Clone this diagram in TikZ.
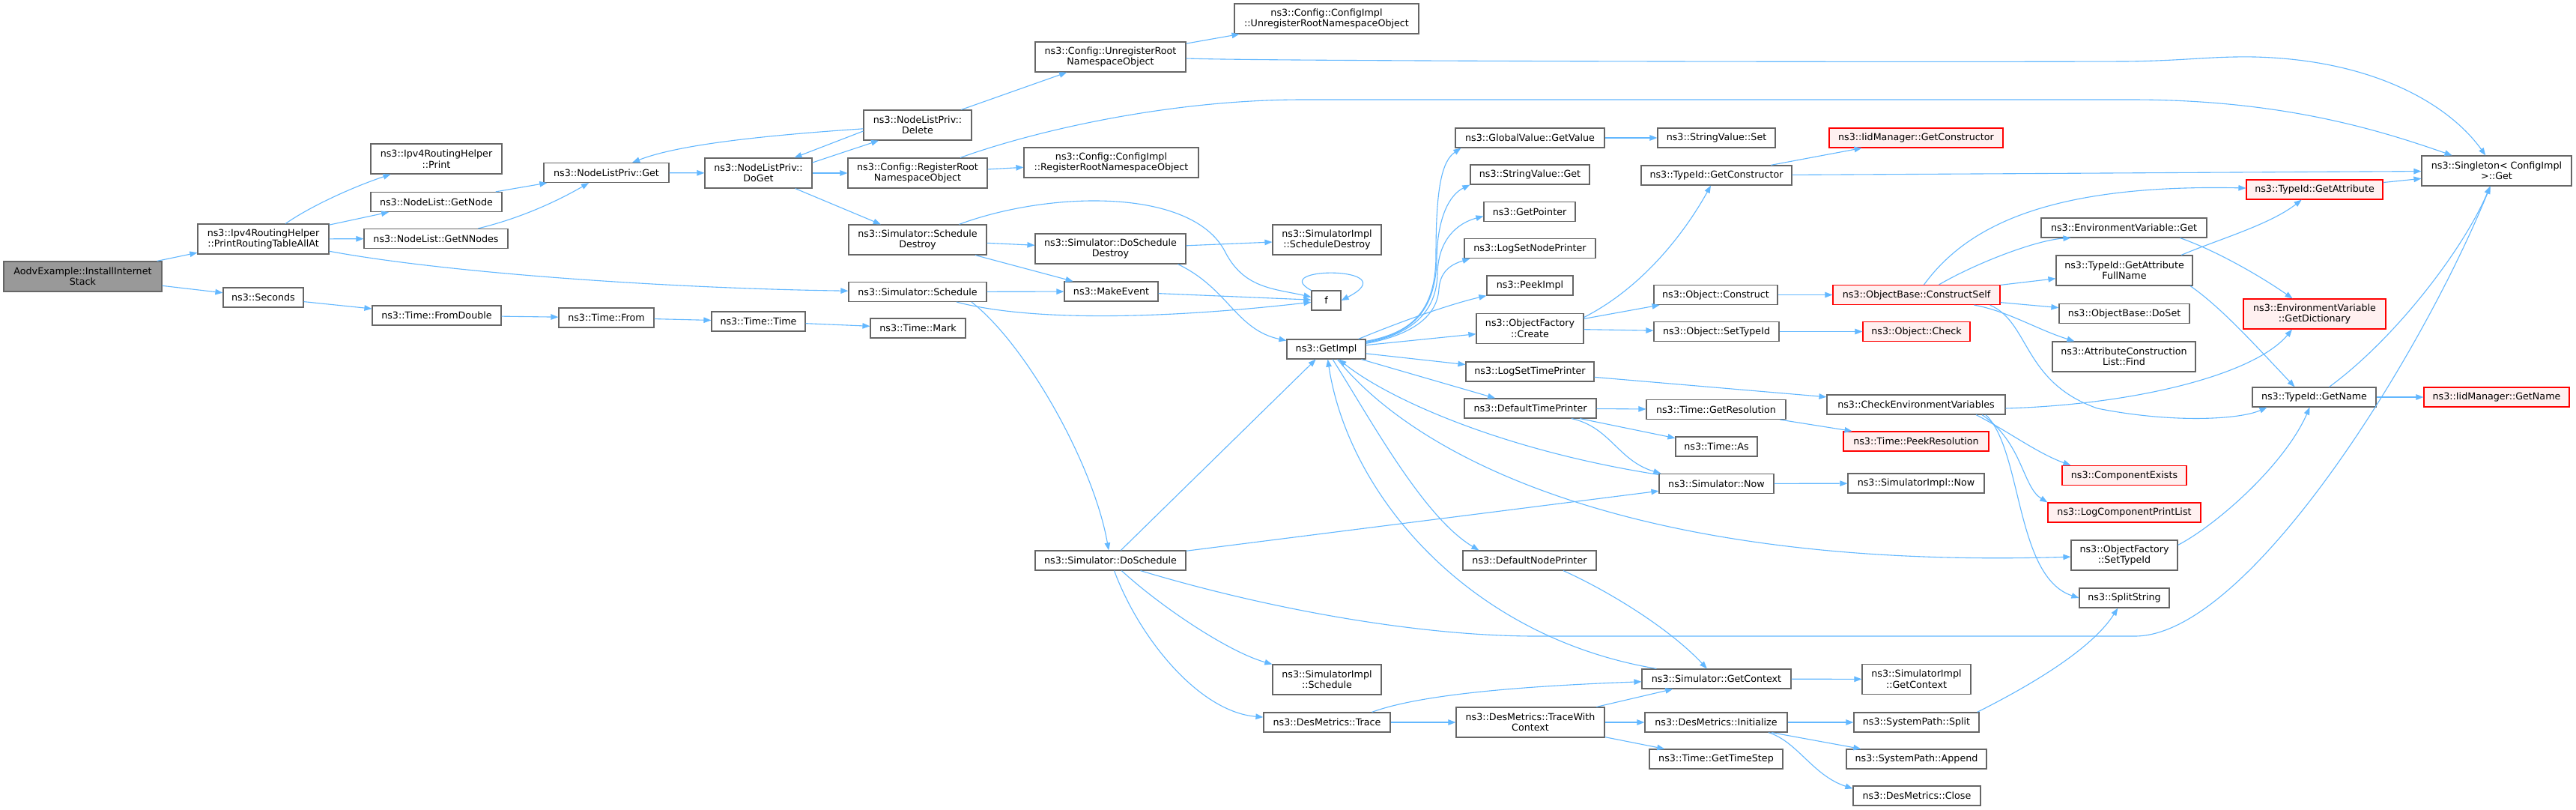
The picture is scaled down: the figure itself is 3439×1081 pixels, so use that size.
\documentclass[tikz,border=0pt]{standalone}
\usepackage{fontspec}
\setmainfont{DejaVu Sans}
\usetikzlibrary{arrows.meta}
\definecolor{edgec}{HTML}{63B8FF}
\definecolor{bord}{HTML}{666666}
\definecolor{rootf}{HTML}{999999}
\definecolor{redf}{HTML}{FFF0F0}
\definecolor{redb}{HTML}{FF0000}
\begin{document}
\begin{tikzpicture}[x=1pt,y=-1pt,
  nd/.style={draw=bord, line width=1.2pt, fill=white, inner sep=0pt, align=center, font=\fontsize{12.7pt}{14.5pt}\selectfont},
  rd/.style={nd, draw=redb, fill=redf},
  sz/.style 2 args={minimum width=#1pt, minimum height=#2pt},
  ed/.style={draw=edgec, line width=1.1pt, -{Triangle[length=10pt,width=7.5pt]}}]
\useasboundingbox (0,0) rectangle (3439,1081);
\fill[white] (0,0) rectangle (3439,1081);
% nodes
\node[nd,fill=rootf,sz={211}{40}] (aodv) at (110.5,369) {AodvExample::InstallInternet\\Stack};
\node[nd,sz={175}{40}] (prt) at (351.5,319) {ns3::Ipv4RoutingHelper\\::PrintRoutingTableAllAt};
\node[nd,sz={107}{26}] (sec) at (351.5,397) {ns3::Seconds};
\node[nd,sz={175}{40}] (prn) at (582.5,212) {ns3::Ipv4RoutingHelper\\::Print};
\node[nd,sz={175}{26}] (gnode) at (582.5,269.5) {ns3::NodeList::GetNode};
\node[nd,sz={192}{26}] (gnn) at (582,318.5) {ns3::NodeList::GetNNodes};
\node[nd,sz={172}{26}] (fd) at (583,421) {ns3::Time::FromDouble};
\node[nd,sz={167}{26}] (nlget) at (809.5,230.5) {ns3::NodeListPriv::Get};
\node[nd,sz={127}{26}] (from) at (809.5,424) {ns3::Time::From};
\node[nd,sz={143}{40}] (doget) at (1012.5,231) {ns3::NodeListPriv::\\DoGet};
\node[nd,sz={125}{26}] (ttime) at (1012.5,429) {ns3::Time::Time};
\node[nd,sz={144}{40}] (del) at (1225,167) {ns3::NodeListPriv::\\Delete};
\node[nd,sz={186}{40}] (reg) at (1225,231) {ns3::Config::RegisterRoot\\NamespaceObject};
\node[nd,sz={184}{40}] (sd) at (1225,320) {ns3::Simulator::Schedule\\Destroy};
\node[nd,sz={184}{26}] (sch) at (1225,389.5) {ns3::Simulator::Schedule};
\node[nd,sz={127}{26}] (mark) at (1225.5,438) {ns3::Time::Mark};
\node[nd,sz={201}{26}] (dos) at (1482.5,748) {ns3::Simulator::DoSchedule};
\node[nd,sz={201}{40}] (unreg) at (1482.5,76) {ns3::Config::UnregisterRoot\\NamespaceObject};
\node[nd,sz={233}{40}] (cireg) at (1483.5,217) {ns3::Config::ConfigImpl\\::RegisterRootNamespaceObject};
\node[nd,sz={201}{40}] (dsd) at (1482.5,332) {ns3::Simulator::DoSchedule\\Destroy};
\node[nd,sz={125}{26}] (mk) at (1483.5,389) {ns3::MakeEvent};
\node[nd,sz={246}{40}] (ciunreg) at (1771,25) {ns3::Config::ConfigImpl\\::UnregisterRootNamespaceObject};
\node[nd,sz={145}{40}] (sisd) at (1771.5,320) {ns3::SimulatorImpl\\::ScheduleDestroy};
\node[nd,sz={39}{26}] (f) at (1770.5,401) {f};
\node[nd,sz={105}{26}] (gi) at (1770.5,466) {ns3::GetImpl};
\node[nd,sz={145}{40}] (sis) at (1771.5,907) {ns3::SimulatorImpl\\::Schedule};
\node[nd,sz={169}{26}] (dmt) at (1771.5,964) {ns3::DesMetrics::Trace};
\node[nd,sz={199}{26}] (gv) at (2042.5,184) {ns3::GlobalValue::GetValue};
\node[nd,sz={159}{26}] (svg) at (2042.5,233) {ns3::StringValue::Get};
\node[nd,sz={122}{26}] (gp) at (2042,282.5) {ns3::GetPointer};
\node[nd,sz={175}{26}] (lsnp) at (2042.5,331.5) {ns3::LogSetNodePrinter};
\node[nd,sz={115}{26}] (pi) at (2042.5,381) {ns3::PeekImpl};
\node[nd,sz={143}{40}] (ofc) at (2042.5,438.5) {ns3::ObjectFactory\\::Create};
\node[nd,sz={171}{26}] (lstp) at (2042.5,496) {ns3::LogSetTimePrinter};
\node[nd,sz={176}{26}] (dtp) at (2043,545) {ns3::DefaultTimePrinter};
\node[nd,sz={178}{26}] (dnp) at (2042,748) {ns3::DefaultNodePrinter};
\node[nd,sz={198}{40}] (twc) at (2043,964) {ns3::DesMetrics::TraceWith\\Context};
\node[nd,sz={157}{26}] (svs) at (2291.5,184) {ns3::StringValue::Set};
\node[nd,sz={201}{26}] (tgc) at (2291.5,234) {ns3::TypeId::GetConstructor};
\node[nd,sz={165}{26}] (oc) at (2290.5,393.5) {ns3::Object::Construct};
\node[nd,sz={167}{26}] (ost) at (2291.5,442.5) {ns3::Object::SetTypeId};
\node[nd,sz={186}{26}] (tgr) at (2291,546.5) {ns3::Time::GetResolution};
\node[nd,sz={109}{26}] (tas) at (2291.5,596) {ns3::Time::As};
\node[nd,sz={153}{26}] (snow) at (2291.5,645.5) {ns3::Simulator::Now};
\node[nd,sz={199}{26}] (sgc) at (2291.5,906) {ns3::Simulator::GetContext};
\node[nd,sz={190}{26}] (dmi) at (2291,964) {ns3::DesMetrics::Initialize};
\node[nd,sz={178}{26}] (tgts) at (2291,1013) {ns3::Time::GetTimeStep};
\node[rd,sz={232}{26}] (igc) at (2558,184) {ns3::IidManager::GetConstructor};
\node[rd,sz={223}{26}] (cs) at (2558.5,393.5) {ns3::ObjectBase::ConstructSelf};
\node[rd,sz={143}{26}] (ochk) at (2558.5,442.5) {ns3::Object::Check};
\node[nd,sz={238}{26}] (cev) at (2558,540) {ns3::CheckEnvironmentVariables};
\node[rd,sz={194}{26}] (tpr) at (2558,589) {ns3::Time::PeekResolution};
\node[nd,sz={182}{26}] (sinow) at (2558,645) {ns3::SimulatorImpl::Now};
\node[nd,sz={145}{40}] (sigc) at (2558.5,906.5) {ns3::SimulatorImpl\\::GetContext};
\node[nd,sz={167}{26}] (sps) at (2558.5,964) {ns3::SystemPath::Split};
\node[nd,sz={187}{26}] (spa) at (2558.5,1013) {ns3::SystemPath::Append};
\node[nd,sz={170}{26}] (dmc) at (2559,1062) {ns3::DesMetrics::Close};
\node[nd,sz={221}{26}] (evg) at (2835.5,304) {ns3::EnvironmentVariable::Get};
\node[nd,sz={182}{40}] (tgafn) at (2836,361) {ns3::TypeId::GetAttribute\\FullName};
\node[nd,sz={174}{26}] (obds) at (2836,418.5) {ns3::ObjectBase::DoSet};
\node[nd,sz={191}{40}] (acf) at (2835.5,476) {ns3::AttributeConstruction\\List::Find};
\node[rd,sz={166}{26}] (ce) at (2836,634.5) {ns3::ComponentExists};
\node[rd,sz={204}{26}] (lcpl) at (2836,684) {ns3::LogComponentPrintList};
\node[nd,sz={142}{40}] (ofst) at (2836,741) {ns3::ObjectFactory\\::SetTypeId};
\node[nd,sz={120}{26}] (ss) at (2836,798) {ns3::SplitString};
\node[rd,sz={182}{26}] (tga) at (3090,253) {ns3::TypeId::GetAttribute};
\node[rd,sz={190}{40}] (evgd) at (3090,419) {ns3::EnvironmentVariable\\::GetDictionary};
\node[nd,sz={165}{26}] (tgn) at (3089.5,530) {ns3::TypeId::GetName};
\node[nd,sz={200}{40}] (sing) at (3333,228) {ns3::Singleton< ConfigImpl\\>::Get};
\node[rd,sz={194}{26}] (ign) at (3333,530) {ns3::IidManager::GetName};
% edges
\draw[ed] (aodv) -- (prt);
\draw[ed] (aodv) -- (sec);
\draw[ed] (prt) .. controls (415,275) and (470,250) .. (prn);
\draw[ed] (prt) -- (gnode);
\draw[ed] (prt) -- (gnn);
\draw[ed] (prt) .. controls (600,365) and (900,385) .. (sch);
\draw[ed] (gnode) -- (nlget);
\draw[ed] (gnn) .. controls (700,290) and (750,265) .. (nlget);
\draw[ed] (nlget) -- (doget);
\draw[ed] (del) .. controls (1000,182) and (900,195) .. (nlget);
\draw[ed] ([yshift=-8pt]del.west) -- ([xshift=48pt]doget.north);
\draw[ed] ([yshift=14pt]doget.east) -- ([xshift=-52pt]del.south);
\draw[ed] (doget) -- (reg);
\draw[ed] (doget) -- (sd);
\draw[ed] (del) -- (unreg);
\draw[ed] (unreg) -- (ciunreg);
\draw[ed] ([yshift=-2pt]unreg.east) .. controls (1700,82) and (2600,83) .. (2838,82) .. controls (2920,81) and (2950,75) .. (3010,76) .. controls (3170,80) and (3270,140) .. (sing);
\draw[ed] (reg) -- (cireg);
\draw[ed] (reg) .. controls (1380,175) and (1560,133) .. (1740,133) -- (2845,133) .. controls (3050,133) and (3180,175) .. (sing);
\draw[ed] (sd) -- (dsd);
\draw[ed] (sd) -- (mk);
\draw[ed] (sd) .. controls (1400,255) and (1590,250) .. (1635,335) .. controls (1660,385) and (1700,385) .. (f);
\draw[ed] (sch) -- (mk);
\draw[ed] (sch) .. controls (1380,430) and (1560,425) .. (f);
\draw[ed] (mk) -- (f);
\draw[ed] (f.north west) .. controls (1690,355) and (1880,355) .. (f.east);
\draw[ed] (dsd) -- (sisd);
\draw[ed] ([xshift=90pt]dsd.south) .. controls (1640,385) and (1650,440) .. (gi);
\draw[ed] ([xshift=72pt]sch.south) .. controls (1370,460) and (1460,620) .. (dos);
\draw[ed] (dos) -- (gi);
\draw[ed] (dos) -- (snow);
\draw[ed] (dos) .. controls (1550,810) and (1640,870) .. (sis);
\draw[ed] (dos) .. controls (1520,850) and (1600,950) .. (dmt);
\draw[ed] ([xshift=40pt]dos.south) .. controls (1700,815) and (1900,849) .. (2050,849) -- (2850,849) .. controls (3000,849) and (3230,480) .. (sing);
\draw[ed] ([yshift=-3pt]gi.north east) .. controls (1880,445) and (1917,420) .. (1917,340) .. controls (1917,250) and (1925,215) .. ([xshift=8pt]gv.south west);
\draw[ed] ([yshift=-4pt]gi.north east) .. controls (1880,446) and (1917,420) .. (1918,345) .. controls (1919,290) and (1935,260) .. (svg.south west);
\draw[ed] ([yshift=-5pt]gi.north east) .. controls (1880,447) and (1918,420) .. (1919,365) .. controls (1920,320) and (1945,298) .. ([yshift=-6pt]gp.west);
\draw[ed] ([yshift=-6pt]gi.north east) .. controls (1880,448) and (1919,425) .. (1921,385) .. controls (1923,360) and (1940,352) .. ([xshift=8pt]lsnp.south west);
\draw[ed] ([xshift=-10pt]gi.north east) .. controls (1880,425) and (1940,405) .. (pi);
\draw[ed] (gi) -- (ofc);
\draw[ed] (gi) -- (lstp);
\draw[ed] (gi) -- (dtp);
\draw[ed] (gi) .. controls (1830,560) and (1900,690) .. ([xshift=22pt]dnp.north west);
\draw[ed] ([xshift=15pt]gi.south) .. controls (1900,620) and (2200,760) .. (ofst);
\draw[ed] (snow) .. controls (2000,600) and (1850,530) .. (gi);
\draw[ed] ([xshift=20pt]sgc.north west) .. controls (1960,850) and (1800,660) .. (gi);
\draw[ed] (gv) -- (svs);
\draw[ed] ([yshift=15pt]ofc.east) .. controls (2200,380) and (2255,300) .. (tgc);
\draw[ed] (ofc) -- (oc);
\draw[ed] (ofc) -- (ost);
\draw[ed] (tgc) -- (igc);
\draw[ed] (tgc) -- (sing);
\draw[ed] (oc) -- (cs);
\draw[ed] (ost) -- (ochk);
\draw[ed] (cs) .. controls (2620,310) and (2720,245) .. (tga);
\draw[ed] ([xshift=30pt]cs.north) .. controls (2640,350) and (2720,320) .. ([xshift=40pt]evg.south west);
\draw[ed] (cs) -- (tgafn);
\draw[ed] (cs) -- (obds);
\draw[ed] (cs) .. controls (2680,415) and (2720,440) .. (acf);
\draw[ed] ([xshift=98pt]cs.south) .. controls (2710,430) and (2700,510) .. (2800,545) .. controls (2900,565) and (2990,560) .. ([xshift=20pt]tgn.south west);
\draw[ed] ([xshift=75pt]evg.south) .. controls (2960,335) and (3020,370) .. (evgd);
\draw[ed] ([xshift=76pt]tgafn.north) .. controls (2960,320) and (3030,300) .. (tga);
\draw[ed] ([xshift=88pt]tgafn.south) .. controls (2965,410) and (3010,460) .. ([xshift=-26pt]tgn.north);
\draw[ed] (tga) -- (sing);
\draw[ed] ([xshift=20pt]tgn.north) .. controls (3200,450) and (3290,330) .. (sing);
\draw[ed] (tgn) -- (ign);
\draw[ed] (lstp) -- (cev);
\draw[ed] ([yshift=-5pt]cev.east) .. controls (2850,540) and (3010,500) .. ([xshift=-30pt]evgd.south);
\draw[ed] ([xshift=80pt]cev.south) .. controls (2680,575) and (2720,605) .. ([xshift=12pt]ce.north west);
\draw[ed] ([xshift=88pt]cev.south) .. controls (2700,590) and (2700,650) .. (lcpl.north west);
\draw[ed] ([xshift=93pt]cev.south) .. controls (2700,600) and (2690,770) .. (ss.west);
\draw[ed] (dtp) -- (tgr);
\draw[ed] (dtp) -- (tas);
\draw[ed] ([xshift=55pt]dtp.south) .. controls (2150,570) and (2160,615) .. ([xshift=3pt]snow.north west);
\draw[ed] (tgr) -- (tpr);
\draw[ed] (snow) -- (sinow);
\draw[ed] ([xshift=45pt]dnp.south) .. controls (2150,790) and (2230,840) .. (sgc);
\draw[ed] (sgc) -- (sigc);
\draw[ed] ([xshift=60pt]dmt.north) .. controls (1900,925) and (2050,915) .. (sgc);
\draw[ed] (dmt) -- (twc);
\draw[ed] (twc) -- (sgc);
\draw[ed] (twc) -- (dmi);
\draw[ed] (twc) -- (tgts);
\draw[ed] (dmi) -- (sps);
\draw[ed] (dmi) -- (spa);
\draw[ed] ([xshift=70pt]dmi.south) .. controls (2400,990) and (2420,1035) .. ([yshift=-4pt]dmc.north west);
\draw[ed] ([xshift=-3pt]sps.north east) .. controls (2700,920) and (2790,870) .. (ss);
\draw[ed] ([yshift=-7pt]ofst.north east) .. controls (2960,700) and (3050,620) .. (tgn);
\draw[ed] (sec) -- (fd);
\draw[ed] (fd) -- (from);
\draw[ed] (from) -- (ttime);
\draw[ed] (ttime) -- (mark);
\end{tikzpicture}
\end{document}
